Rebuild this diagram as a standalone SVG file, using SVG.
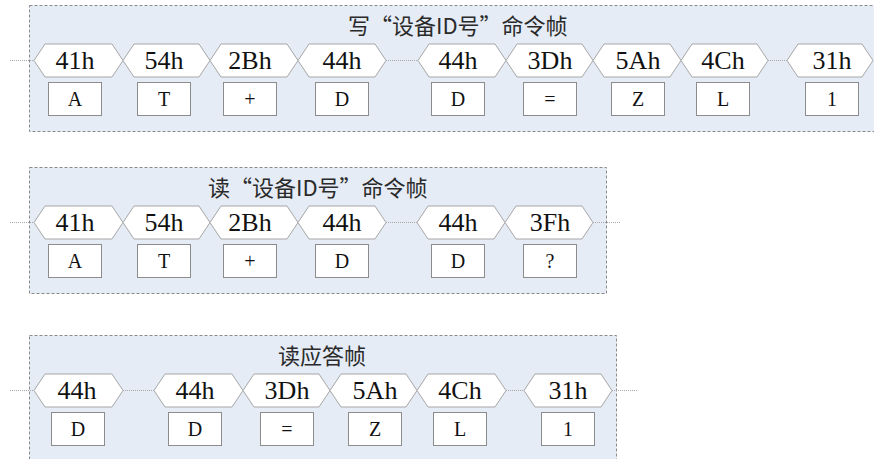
<svg xmlns="http://www.w3.org/2000/svg" width="874" height="459" viewBox="0 0 874 459">
<style>
.frame{fill:#e6ecf6;stroke:#8a8a8a;stroke-width:1;stroke-dasharray:3 2}
.hex{fill:#ffffff;stroke:#a6a6a6;stroke-width:1}
.box{fill:#ffffff;stroke:#8c8c8c;stroke-width:1}
.link{stroke:#a8a8a8;stroke-width:1;stroke-dasharray:1 1;fill:none}
.ht{font-size:26px;fill:#111;text-anchor:middle}
.bt{font-size:20px;fill:#111;text-anchor:middle}
.title{font-size:22px;fill:#2a2a2a}
</style>
<rect width="874" height="459" fill="#ffffff"/>
<g font-family="Noto Sans CJK SC">
<g id="frame1"><rect class="frame" x="29.5" y="5.5" width="860" height="126"/><text class="title" x="348" y="34">写“设备ID号”命令帧</text></g>
<g id="frame2"><rect class="frame" x="29.5" y="167.5" width="577" height="126"/><text class="title" x="208" y="196">读“设备ID号”命令帧</text></g>
<g id="frame3"><rect class="frame" x="29.5" y="335.5" width="587" height="140"/><text class="title" x="278" y="364">读应答帧</text></g>
</g>
<g id="connectors">
<line class="link" x1="10" y1="60.5" x2="34" y2="60.5"/>
<line class="link" x1="386" y1="60.5" x2="418" y2="60.5"/>
<line class="link" x1="768" y1="60.5" x2="787" y2="60.5"/>
<line class="link" x1="10" y1="222.5" x2="34" y2="222.5"/>
<line class="link" x1="386" y1="222.5" x2="417" y2="222.5"/>
<line class="link" x1="593" y1="222.5" x2="620" y2="222.5"/>
<line class="link" x1="10" y1="390.5" x2="34" y2="390.5"/>
<line class="link" x1="123" y1="390.5" x2="154" y2="390.5"/>
<line class="link" x1="506" y1="390.5" x2="524" y2="390.5"/>
<line class="link" x1="612" y1="390.5" x2="637" y2="390.5"/>
</g>
<g font-family="Liberation Serif">
<!-- Row 1 -->
<g id="r1n1"><polygon class="hex" points="34,60.5 45,44 112,44 123,60.5 112,77 45,77"/><text class="ht" x="75" y="69">41h</text><rect class="box" x="48.5" y="82.5" width="53" height="33"/><text class="bt" x="75" y="106">A</text></g>
<g id="r1n2"><polygon class="hex" points="123,60.5 134,44 199,44 210,60.5 199,77 134,77"/><text class="ht" x="164" y="69">54h</text><rect class="box" x="137.5" y="82.5" width="53" height="33"/><text class="bt" x="164" y="106">T</text></g>
<g id="r1n3"><polygon class="hex" points="210,60.5 221,44 287,44 298,60.5 287,77 221,77"/><text class="ht" x="250" y="69">2Bh</text><rect class="box" x="223.5" y="82.5" width="53" height="33"/><text class="bt" x="250" y="106">+</text></g>
<g id="r1n4"><polygon class="hex" points="298,60.5 309,44 375,44 386,60.5 375,77 309,77"/><text class="ht" x="342" y="69">44h</text><rect class="box" x="315.5" y="82.5" width="53" height="33"/><text class="bt" x="342" y="106">D</text></g>
<g id="r1n5"><polygon class="hex" points="418,60.5 429,44 495,44 506,60.5 495,77 429,77"/><text class="ht" x="458" y="69">44h</text><rect class="box" x="431.5" y="82.5" width="53" height="33"/><text class="bt" x="458" y="106">D</text></g>
<g id="r1n6"><polygon class="hex" points="506,60.5 517,44 582,44 593,60.5 582,77 517,77"/><text class="ht" x="550" y="69">3Dh</text><rect class="box" x="523.5" y="82.5" width="53" height="33"/><text class="bt" x="550" y="106">=</text></g>
<g id="r1n7"><polygon class="hex" points="593,60.5 604,44 670,44 681,60.5 670,77 604,77"/><text class="ht" x="638" y="69">5Ah</text><rect class="box" x="611.5" y="82.5" width="53" height="33"/><text class="bt" x="638" y="106">Z</text></g>
<g id="r1n8"><polygon class="hex" points="681,60.5 692,44 757,44 768,60.5 757,77 692,77"/><text class="ht" x="723" y="69">4Ch</text><rect class="box" x="696.5" y="82.5" width="53" height="33"/><text class="bt" x="723" y="106">L</text></g>
<g id="r1n9"><polygon class="hex" points="787,60.5 798,44 862,44 873,60.5 862,77 798,77"/><text class="ht" x="832" y="69">31h</text><rect class="box" x="805.5" y="82.5" width="53" height="33"/><text class="bt" x="832" y="106">1</text></g>
<!-- Row 2 -->
<g id="r2n1"><polygon class="hex" points="34,222.5 45,206 112,206 123,222.5 112,239 45,239"/><text class="ht" x="75" y="231">41h</text><rect class="box" x="48.5" y="244.5" width="53" height="33"/><text class="bt" x="75" y="268">A</text></g>
<g id="r2n2"><polygon class="hex" points="123,222.5 134,206 199,206 210,222.5 199,239 134,239"/><text class="ht" x="164" y="231">54h</text><rect class="box" x="137.5" y="244.5" width="53" height="33"/><text class="bt" x="164" y="268">T</text></g>
<g id="r2n3"><polygon class="hex" points="210,222.5 221,206 287,206 298,222.5 287,239 221,239"/><text class="ht" x="250" y="231">2Bh</text><rect class="box" x="223.5" y="244.5" width="53" height="33"/><text class="bt" x="250" y="268">+</text></g>
<g id="r2n4"><polygon class="hex" points="298,222.5 309,206 375,206 386,222.5 375,239 309,239"/><text class="ht" x="342" y="231">44h</text><rect class="box" x="315.5" y="244.5" width="53" height="33"/><text class="bt" x="342" y="268">D</text></g>
<g id="r2n5"><polygon class="hex" points="417,222.5 428,206 494,206 505,222.5 494,239 428,239"/><text class="ht" x="458" y="231">44h</text><rect class="box" x="431.5" y="244.5" width="53" height="33"/><text class="bt" x="458" y="268">D</text></g>
<g id="r2n6"><polygon class="hex" points="505,222.5 516,206 582,206 593,222.5 582,239 516,239"/><text class="ht" x="550" y="231">3Fh</text><rect class="box" x="523.5" y="244.5" width="53" height="33"/><text class="bt" x="550" y="268">?</text></g>
<!-- Row 3 -->
<g id="r3n1"><polygon class="hex" points="34,390.5 45,374 112,374 123,390.5 112,407 45,407"/><text class="ht" x="77" y="399">44h</text><rect class="box" x="51.5" y="412.5" width="53" height="33"/><text class="bt" x="78" y="436">D</text></g>
<g id="r3n2"><polygon class="hex" points="154,390.5 165,374 232,374 243,390.5 232,407 165,407"/><text class="ht" x="195" y="399">44h</text><rect class="box" x="168.5" y="412.5" width="53" height="33"/><text class="bt" x="195" y="436">D</text></g>
<g id="r3n3"><polygon class="hex" points="243,390.5 254,374 319,374 330,390.5 319,407 254,407"/><text class="ht" x="287" y="399">3Dh</text><rect class="box" x="260.5" y="412.5" width="53" height="33"/><text class="bt" x="287" y="436">=</text></g>
<g id="r3n4"><polygon class="hex" points="330,390.5 341,374 406,374 417,390.5 406,407 341,407"/><text class="ht" x="375" y="399">5Ah</text><rect class="box" x="348.5" y="412.5" width="53" height="33"/><text class="bt" x="375" y="436">Z</text></g>
<g id="r3n5"><polygon class="hex" points="417,390.5 428,374 495,374 506,390.5 495,407 428,407"/><text class="ht" x="460" y="399">4Ch</text><rect class="box" x="433.5" y="412.5" width="53" height="33"/><text class="bt" x="460" y="436">L</text></g>
<g id="r3n6"><polygon class="hex" points="524,390.5 535,374 601,374 612,390.5 601,407 535,407"/><text class="ht" x="568" y="399">31h</text><rect class="box" x="541.5" y="412.5" width="53" height="33"/><text class="bt" x="568" y="436">1</text></g>
</g>
</svg>
